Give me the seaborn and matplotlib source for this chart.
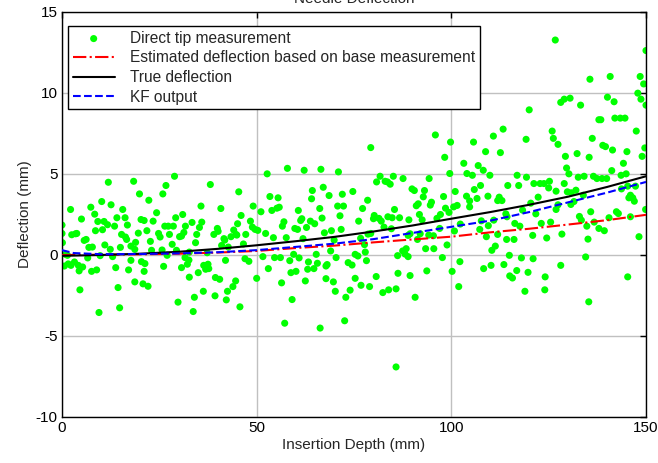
import numpy as np
import pandas as pd
import matplotlib
matplotlib.use('Agg')
import matplotlib.pyplot as plt
import seaborn as sns

# -- data --
tip_x = [
    11.9, 18.4, 19.9, 22.3, 10.2, 12.6, 2.2, 7.4, 15.6, 8.4, 5.0, 9.2, 10.8, 14.1, 16.2, 20.3, 21.1, 24.3, 23.4, 0.0,
    11.7, 13.5, 16.8, 8.6, 10.4, 19.6, 21.8, 0.0, 2.5, 3.5, 3.8, 15.3, 16.3, 16.6, 5.7, 6.2, 0.1, 18.9, 22.7, 11.0,
    17.7, 6.9, 7.8, 12.4, 15.0, 18.7, 23.0, 0.9, 1.4, 9.8, 13.0, 6.6, 17.7, 20.4, 21.3, 1.6, 0.6, 2.3, 3.2, 4.2,
    5.3, 4.4, 7.6, 8.9, 13.8, 17.1, 21.1, 18.7, 20.8, 22.1, 14.4, 4.6, 14.8, 9.5,
    28.9, 26.7, 25.9, 38.1, 45.4, 35.7, 40.8, 49.1, 51.1, 31.0, 29.2, 33.4, 35.9, 46.0, 48.4, 45.1, 26.4, 27.3, 28.6, 31.7,
    35.3, 39.9, 40.1, 44.1, 44.7, 48.9, 49.6, 50.3, 24.8, 25.2, 27.6, 30.2, 30.7, 31.3, 34.6, 39.0, 41.6, 41.8, 43.4, 44.9,
    47.2, 28.3, 34.3, 41.0, 42.7, 46.6, 25.7, 29.4, 32.7, 37.3, 27.0, 31.6, 32.6, 36.4, 37.5, 36.9, 37.7, 32.2, 42.0, 47.0,
    48.0, 26.1, 30.7, 32.7, 35.0, 39.4, 40.5, 44.6, 43.9, 50.0, 42.5, 36.3, 39.3, 42.2, 45.7, 34.0, 29.8, 33.7,
    57.9, 62.2, 66.5, 71.0, 52.7, 64.3, 67.1, 74.7, 53.4, 55.5, 64.1, 68.6, 72.0, 70.8, 72.3, 53.9, 55.2, 55.8, 60.7, 66.2,
    71.4, 76.2, 61.6, 61.3, 57.0, 56.6, 66.8, 63.8, 64.9, 59.8, 60.5, 62.8, 52.3, 54.3, 57.6, 67.4, 69.2, 71.7, 69.9, 61.9,
    51.6, 54.6, 56.1, 59.5, 60.9, 65.3, 69.0, 70.4, 73.5, 74.5, 75.3, 76.0, 58.5, 63.3, 65.6, 68.1, 67.8, 53.0, 64.7, 63.1,
    58.8, 60.1, 67.8, 69.7, 75.3, 76.8, 56.4, 62.5, 70.2, 74.0, 72.9, 59.1, 57.2, 66.3, 72.6,
    95.9, 99.8, 79.3, 98.3, 99.6, 81.7, 85.1, 87.6, 94.3, 80.8, 83.0, 83.6, 84.3, 89.9, 90.5, 93.1, 101.0, 92.8, 98.0, 78.5,
    91.5, 91.0, 94.9, 94.6, 77.2, 85.4, 98.5, 100.6, 101.5, 99.4, 97.2, 96.3, 80.2, 80.0, 81.4, 82.0, 83.7, 84.8, 86.7, 89.1,
    91.8, 92.5, 78.6, 82.7, 84.6, 97.0, 102.3, 100.8, 92.0, 91.3, 88.9, 89.4, 94.2, 95.4, 76.7, 79.3, 77.7, 88.4, 87.5, 88.1,
    88.9, 86.2, 93.4, 95.5, 98.9, 77.9, 78.2, 97.7, 102.2, 86.3, 89.4, 93.7, 100.2, 80.7, 79.0, 82.4, 83.9, 85.8, 90.7, 101.9,
    85.8,
    126.7, 128.1, 120.0, 113.3, 125.9, 110.8, 126.2, 119.2, 105.7, 127.4, 108.8, 112.6, 103.2, 106.9, 108.2, 104.0, 105.4,
    109.9, 116.9, 119.3, 121.2, 122.8, 123.8, 125.2, 107.5, 114.5, 117.3, 125.0, 105.9, 106.6, 109.4, 103.9, 112.3, 111.9,
    113.0, 126.9, 122.3, 120.4, 127.4, 104.7, 104.7, 114.0, 118.3, 121.7, 126.9, 107.7, 110.9, 109.5, 114.3, 116.3, 117.6,
    123.1, 125.5, 128.4, 107.3, 109.0, 111.9, 114.2, 116.1, 120.9, 124.5, 111.3, 110.4, 114.9, 118.0, 121.0, 128.1, 108.3,
    110.2, 113.5, 116.8, 119.7, 115.0, 115.7, 124.1, 118.9, 124.0,
    150.0, 135.6, 140.8, 148.5, 149.4, 147.9, 129.0, 130.5, 133.2, 140.1, 141.8, 148.7, 150.0, 137.9, 138.4, 142.0, 143.4,
    144.6, 147.5, 136.2, 138.9, 139.6, 141.4, 145.1, 149.7, 149.0, 129.3, 132.3, 135.4, 144.2, 129.6, 130.2, 132.6, 134.1,
    136.5, 137.4, 138.7, 139.9, 141.2, 143.6, 144.9, 129.0, 129.8, 130.8, 132.0, 133.9, 130.7, 131.5, 143.7, 145.3, 147.3,
    146.0, 146.6, 147.0, 145.6, 149.9, 135.8, 142.4, 142.9, 132.9, 133.4, 134.8, 136.7, 137.9, 139.3, 140.5, 146.0, 135.1,
    148.2, 134.5, 145.3, 135.3,
]
tip_y = [
    4.49, 4.55, 3.77, 3.38, 3.30, 3.10, 2.81, 2.95, 2.81, 2.52, 2.22, 2.07, 2.07, 2.30, 2.30, 2.19, 2.13, 2.61, 2.09, 1.85,
    1.87, 1.78, 1.85, 1.50, 1.56, 1.35, 1.50, 1.33, 1.25, 1.31, 1.33, 1.27, 1.11, 0.96, 0.90, 0.96, 0.76, 0.78, 0.84, 0.62,
    0.55, 0.47, 0.49, 0.35, 0.47, 0.35, 0.29, 0.04, -0.02, -0.04, -0.10, -0.18, -0.33, -0.41, -0.53, -0.55, -0.68, -0.64, -0.43, -0.64,
    -0.74, -0.98, -1.01, -0.92, -0.78, -0.92, -1.01, -1.66, -1.78, -1.93, -2.01, -2.15, -3.26, -3.55,
    4.86, 4.29, 3.77, 4.35, 3.90, 3.02, 2.87, 3.02, 2.67, 2.50, 2.30, 2.01, 2.03, 2.44, 2.09, 1.93, 1.78, 1.78, 1.78, 1.78,
    1.70, 1.64, 1.46, 1.54, 1.27, 1.72, 1.58, 1.52, 1.33, 1.11, 1.27, 1.13, 1.17, 1.39, 1.27, 1.27, 1.01, 0.92, 1.13, 1.23,
    1.27, 0.66, 0.76, 0.59, 0.49, 0.68, 0.31, 0.29, 0.18, 0.14, -0.02, -0.16, -0.31, -0.64, -0.57, -0.88, -0.84, -0.57, -0.33, -0.23,
    -0.39, -0.70, -0.78, -1.37, -1.09, -1.39, -1.50, -1.60, -1.95, -1.44, -2.24, -2.24, -2.52, -2.77, -3.20, -2.61, -2.91, -3.49,
    5.35, 5.23, 5.29, 5.13, 5.01, 3.98, 4.18, 3.92, 3.61, 3.53, 3.47, 3.67, 3.75, 3.02, 3.02, 2.75, 2.89, 2.95, 2.75, 2.87,
    2.42, 2.09, 2.24, 2.13, 2.05, 1.78, 2.28, 2.09, 1.93, 1.64, 1.58, 1.70, 1.33, 1.07, 1.07, 1.37, 1.50, 1.58, 0.92, 1.01,
    -0.10, -0.16, -0.16, 0.04, -0.18, 0.04, 0.25, -0.16, -0.47, -0.62, 0.04, -0.06, -0.35, -0.43, -0.51, -0.59, -0.68, -0.84, -0.84, -0.88,
    -1.09, -1.01, -1.46, -1.66, -1.44, -1.87, -1.72, -1.60, -2.24, -2.17, -2.61, -2.75, -4.21, -4.51, -4.06,
    7.41, 6.97, 6.63, 6.03, 5.03, 4.86, 4.86, 4.72, 4.72, 4.51, 4.55, 4.51, 4.37, 4.08, 3.98, 3.98, 3.92, 3.59, 3.61, 3.38,
    3.16, 3.04, 3.26, 3.08, 2.87, 2.81, 2.89, 2.97, 3.06, 2.63, 2.50, 2.26, 2.44, 2.24, 2.26, 2.09, 2.36, 2.30, 2.30, 2.17,
    2.50, 2.17, 1.29, 1.72, 1.62, 1.64, 1.91, 1.48, 1.31, 0.96, 1.21, 1.31, 1.23, 1.19, 1.03, 1.33, 0.64, 0.39, 0.25, 0.06,
    -0.10, -0.04, 0.39, 0.39, 0.62, 0.18, -0.35, -0.16, -0.41, -1.13, -1.27, -0.98, -1.01, -1.33, -1.95, -2.32, -2.15, -2.09, -2.61, -1.95,
    -6.91,
    13.27, 9.42, 8.96, 7.77, 7.65, 7.34, 7.20, 7.14, 6.97, 6.83, 6.38, 6.32, 5.66, 5.52, 5.23, 5.03, 4.92,
    4.92, 4.92, 4.80, 4.41, 4.41, 4.41, 4.55, 4.29, 4.29, 4.29, 4.14, 4.04, 3.49, 3.63, 3.63, 3.57, 3.36,
    3.36, 3.94, 3.57, 3.20, 3.10, 3.34, 2.97, 2.54, 2.77, 2.54, 2.81, 2.11, 2.15, 1.81, 2.36, 1.95, 1.78,
    1.95, 2.03, 1.29, 1.58, 1.13, 1.27, 0.96, 0.96, 1.21, 1.05, 0.55, 0.29, -0.02, -0.18, -0.23, -0.64, -0.84,
    -0.64, -0.59, -0.96, -1.07, -1.29, -1.42, -1.35, -2.24, -2.15,
    12.62, 10.85, 11.02, 11.02, 10.56, 9.99, 9.62, 9.68, 9.25, 9.74, 9.46, 9.62, 9.25, 8.35, 8.35, 8.45, 8.45,
    8.45, 7.65, 7.20, 6.77, 6.69, 6.48, 6.38, 6.61, 6.09, 6.09, 6.26, 6.03, 5.66, 5.37, 5.01, 4.80, 4.86,
    4.86, 4.72, 4.72, 4.72, 5.21, 4.92, 5.01, 4.41, 3.90, 3.84, 4.00, 3.69, 3.12, 3.30, 4.08, 4.25, 4.25,
    3.69, 3.53, 3.32, 3.53, 2.81, 2.67, 2.67, 2.56, 2.38, 2.15, 1.78, 2.03, 1.64, 1.50, 2.30, 2.36, 0.98,
    1.13, -0.12, -1.35, -2.89,
]

depth = [0, 10, 20, 30, 40, 50, 60, 70, 80, 90, 100, 110, 120, 130, 140, 150]
true_defl = [-0.05, 0.0, 0.08, 0.2, 0.38, 0.6, 0.85, 1.12, 1.45, 1.82, 2.24, 2.65, 3.1, 3.6, 4.2, 4.86]
est_defl = [0.0, 0.02, 0.04, 0.08, 0.15, 0.25, 0.43, 0.58, 0.78, 0.96, 1.13, 1.40, 1.62, 1.88, 2.15, 2.48]
kf_depth = [0, 3, 10, 20, 30, 40, 50, 60, 70, 80, 90, 100, 110, 120, 130, 140, 150]
kf_defl = [0.3, 0.12, 0.05, 0.06, 0.1, 0.17, 0.3, 0.5, 0.7, 0.98, 1.36, 1.74, 2.12, 2.65, 3.25, 3.85, 4.51]

labels = ['Direct tip measurement', 'Estimated deflection based on base measurement',
          'True deflection', 'KF output']

sns.set_theme(style='white')
plt.rcParams['font.family'] = ['Liberation Sans', 'DejaVu Sans']
plt.rcParams['axes.unicode_minus'] = False

fig = plt.figure(figsize=(6.58, 4.63), dpi=100)
ax = fig.add_axes([62 / 658, 1 - 417 / 463, 584 / 658, 405 / 463])

sns.scatterplot(x=tip_x, y=tip_y, color=(0, 1, 0), s=26, edgecolor='none',
                linewidth=0, label=labels[0], ax=ax, zorder=2)
sns.lineplot(x=depth, y=est_defl, color='red', linestyle='-.', linewidth=1.5,
             sort=False, estimator=None, label=labels[1], ax=ax, zorder=3)
sns.lineplot(x=depth, y=true_defl, color='black', linestyle='-', linewidth=1.5,
             sort=False, estimator=None, label=labels[2], ax=ax, zorder=3)
sns.lineplot(x=kf_depth, y=kf_defl, color='blue', linestyle='--', linewidth=1.5,
             sort=False, estimator=None, label=labels[3], ax=ax, zorder=3)

ax.set_xlim(0, 150)
ax.set_ylim(-10, 15)
ax.set_xticks([0, 50, 100, 150])
ax.set_yticks([-10, -5, 0, 5, 10, 15])
ax.grid(True, color='#c0c0c0', linewidth=1.0, linestyle='-')
ax.set_axisbelow(True)
for s in ax.spines.values():
    s.set_color('black')
    s.set_linewidth(1.0)
ax.tick_params(direction='in', top=True, right=True, length=4, width=1,
               colors='black', labelsize=11, pad=3)
ax.set_xlabel('Insertion Depth (mm)', fontsize=11, labelpad=2)
ax.set_ylabel('Deflection (mm)', fontsize=11, labelpad=3)

# title is cut off at the top edge in the original
fig.text((62 + 646) / 2 / 658, 1.003, 'Needle Deflection', ha='center', va='center', fontsize=11)

handles, labs = ax.get_legend_handles_labels()
order = [labs.index(l) for l in labels]
leg = ax.legend([handles[i] for i in order], labels, loc='upper left',
                bbox_to_anchor=((68 - 62) / 584, (417 - 26) / 405), borderaxespad=0,
                prop={'size': 11.2}, frameon=True, fancybox=False, framealpha=1,
                edgecolor='black', handlelength=2.7, handletextpad=1.0,
                labelspacing=0.3, borderpad=0.3)
leg.get_frame().set_linewidth(1.0)

fig.savefig('out.png', dpi=100)
plt.close(fig)
